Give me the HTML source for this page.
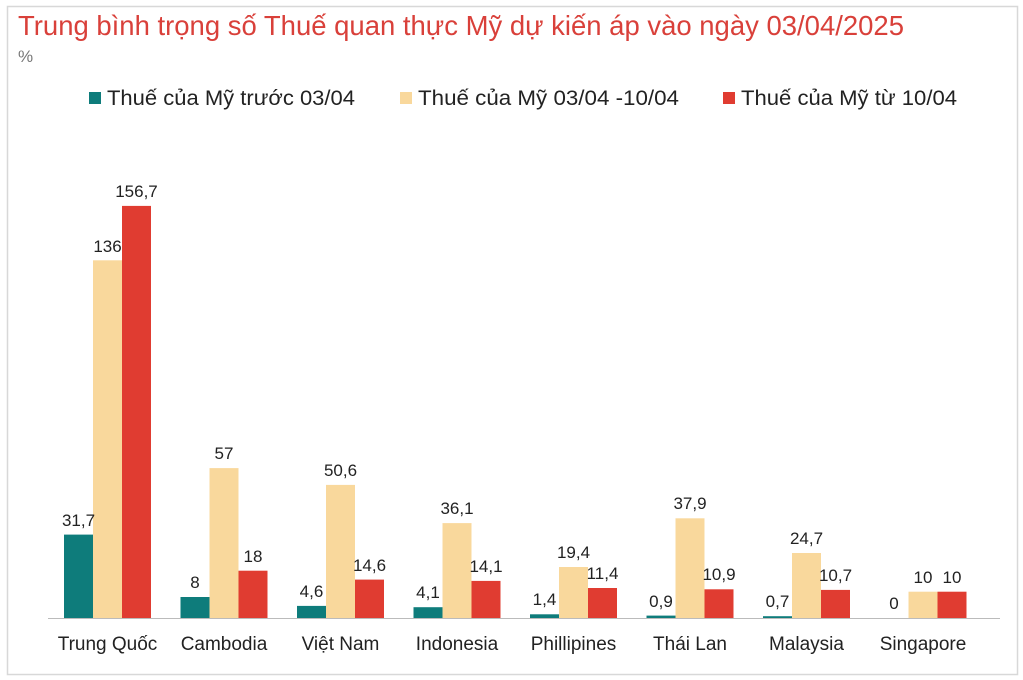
<!DOCTYPE html>
<html><head><meta charset="utf-8"><style>
body{margin:0;background:#fff;}
svg{display:block;font-family:"Liberation Sans",Arial,sans-serif;}
</style></head><body>
<svg width="1023" height="680" viewBox="0 0 1023 680">
<rect x="7.5" y="6.5" width="1010" height="668" fill="#fff" stroke="#d8d8d8" stroke-width="1.5"/>
<text x="18" y="35" font-size="27.5" fill="#d9403a" textLength="886" lengthAdjust="spacingAndGlyphs">Trung bình trọng số Thuế quan thực Mỹ dự kiến áp vào ngày 03/04/2025</text>
<text x="18" y="62" font-size="17" fill="#777">%</text>
<g font-size="21" fill="#222">
<rect x="89" y="92" width="12" height="12" fill="#0e7c7b"/><text x="107" y="105" textLength="248" lengthAdjust="spacingAndGlyphs">Thuế của Mỹ trước 03/04</text>
<rect x="400" y="92" width="12" height="12" fill="#f9d89c"/><text x="418" y="105" textLength="261" lengthAdjust="spacingAndGlyphs">Thuế của Mỹ 03/04 -10/04</text>
<rect x="723" y="92" width="12" height="12" fill="#e03c31"/><text x="741" y="105" textLength="216" lengthAdjust="spacingAndGlyphs">Thuế của Mỹ từ 10/04</text>
</g>
<line x1="48" y1="618.5" x2="1000" y2="618.5" stroke="#bbb" stroke-width="1"/>
<g>
<rect x="64" y="534.6" width="29" height="83.4" fill="#0e7c7b"/><rect x="93" y="260.3" width="29" height="357.7" fill="#f9d89c"/><rect x="122" y="205.9" width="29" height="412.1" fill="#e03c31"/>
<rect x="180.5" y="597" width="29" height="21" fill="#0e7c7b"/><rect x="209.5" y="468.1" width="29" height="149.9" fill="#f9d89c"/><rect x="238.5" y="570.7" width="29" height="47.3" fill="#e03c31"/>
<rect x="297" y="605.9" width="29" height="12.1" fill="#0e7c7b"/><rect x="326" y="484.9" width="29" height="133.1" fill="#f9d89c"/><rect x="355" y="579.6" width="29" height="38.4" fill="#e03c31"/>
<rect x="413.5" y="607.2" width="29" height="10.8" fill="#0e7c7b"/><rect x="442.5" y="523.1" width="29" height="94.9" fill="#f9d89c"/><rect x="471.5" y="580.9" width="29" height="37.1" fill="#e03c31"/>
<rect x="530" y="614.3" width="29" height="3.7" fill="#0e7c7b"/><rect x="559" y="567" width="29" height="51" fill="#f9d89c"/><rect x="588" y="588" width="29" height="30" fill="#e03c31"/>
<rect x="646.5" y="615.6" width="29" height="2.4" fill="#0e7c7b"/><rect x="675.5" y="518.3" width="29" height="99.7" fill="#f9d89c"/><rect x="704.5" y="589.3" width="29" height="28.7" fill="#e03c31"/>
<rect x="763" y="616.2" width="29" height="1.8" fill="#0e7c7b"/><rect x="792" y="553" width="29" height="65" fill="#f9d89c"/><rect x="821" y="589.9" width="29" height="28.1" fill="#e03c31"/>
<rect x="908.5" y="591.7" width="29" height="26.3" fill="#f9d89c"/><rect x="937.5" y="591.7" width="29" height="26.3" fill="#e03c31"/>
</g>
<g font-size="17" fill="#222" text-anchor="middle">
<text x="78.5" y="526">31,7</text><text x="107.5" y="252">136</text><text x="136.5" y="197">156,7</text>
<text x="195" y="588">8</text><text x="224" y="459">57</text><text x="253" y="562">18</text>
<text x="311.5" y="597">4,6</text><text x="340.5" y="476">50,6</text><text x="369.5" y="571">14,6</text>
<text x="428" y="598">4,1</text><text x="457" y="514">36,1</text><text x="486" y="572">14,1</text>
<text x="544.5" y="605">1,4</text><text x="573.5" y="558">19,4</text><text x="602.5" y="579">11,4</text>
<text x="661" y="607">0,9</text><text x="690" y="509">37,9</text><text x="719" y="580">10,9</text>
<text x="777.5" y="607">0,7</text><text x="806.5" y="544">24,7</text><text x="835.5" y="581">10,7</text>
<text x="894" y="609">0</text><text x="923" y="583">10</text><text x="952" y="583">10</text>
</g>
<g font-size="19" fill="#222" text-anchor="middle">
<text x="107.5" y="650">Trung Quốc</text><text x="224" y="650">Cambodia</text><text x="340.5" y="650">Việt Nam</text><text x="457" y="650">Indonesia</text>
<text x="573.5" y="650">Phillipines</text><text x="690" y="650">Thái Lan</text><text x="806.5" y="650">Malaysia</text><text x="923" y="650">Singapore</text>
</g>
</svg>
</body></html>
